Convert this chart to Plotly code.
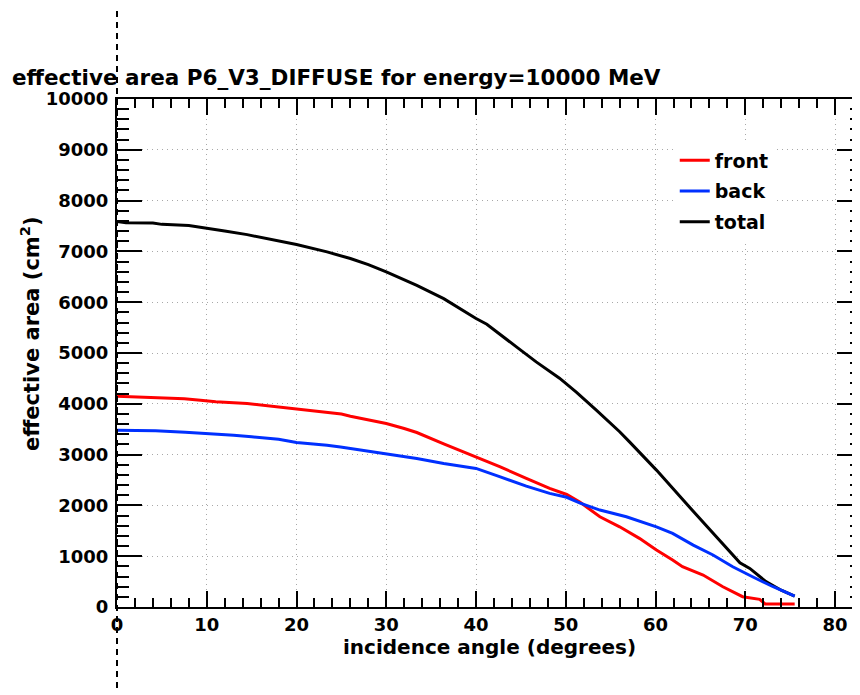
import plotly.graph_objects as go

# ---- data ----
total_deg = [0, 1, 4, 5, 8, 10, 12, 14.5, 17, 20, 23.4, 26, 28, 30, 33.4, 36.4, 40, 41.2, 44.5,
             46.7, 49.3, 51.2, 53.4, 56, 57.1, 60.1, 63.4, 66.4, 69.4, 70.5, 72.3, 74, 75.5]
total_val = [7590, 7565, 7560, 7532, 7510, 7450, 7400, 7330, 7240, 7135, 6990, 6860, 6740, 6595,
             6330, 6070, 5680, 5565, 5120, 4825, 4505, 4225, 3875, 3450, 3250, 2695, 2040, 1450,
             870, 760, 500, 330, 216]

front_deg = [0, 4, 7.5, 9.3, 11, 14.5, 16.3, 18.2, 20, 22, 25, 26, 28, 30, 32, 33.4, 36.4, 40,
             42.7, 45.6, 48.2, 50.1, 51.6, 53.8, 56, 58.2, 60.1, 61.9, 63, 65.3, 67.5, 69.7,
             71.6, 72.2, 75.5]
front_val = [4150, 4130, 4100, 4070, 4040, 4005, 3970, 3940, 3905, 3860, 3800, 3756, 3690, 3612,
             3514, 3435, 3210, 2956, 2759, 2530, 2334, 2215, 2060, 1776, 1579, 1351, 1121, 924,
             793, 629, 399, 203, 151, 60, 60]

back_deg = [0, 4.3, 7.6, 11, 13, 15, 18, 20, 22.3, 23.4, 24.9, 26, 28, 30, 33.4, 36.4, 40, 42.7,
            45.6, 48.2, 50.1, 51.6, 53.8, 56.75, 60.1, 61.9, 64.2, 66.4, 68.6, 70.8, 73.1, 75.5]
back_val = [3480, 3470, 3440, 3410, 3380, 3350, 3300, 3240, 3210, 3185, 3150, 3120, 3070, 3022,
            2924, 2826, 2728, 2562, 2380, 2236, 2160, 2045, 1908, 1776, 1579, 1449, 1219, 1023,
            793, 596, 399, 216]

x_ticks = [0, 10, 20, 30, 40, 50, 60, 70, 80]
x_ticktext = ["0", "10", "20", "30", "40", "50", "60", "70", "80"]
y_ticks = [0, 1000, 2000, 3000, 4000, 5000, 6000, 7000, 8000, 9000, 10000]
y_ticktext = ["0", "1000", "2000", "3000", "4000", "5000", "6000", "7000", "8000", "9000", "10000"]

FONT = "DejaVu Sans"
OFF = 8  # page body margin offset

fig = go.Figure()
fig.add_trace(go.Scatter(x=total_deg, y=total_val, mode="lines", name="total",
                         line=dict(color="black", width=3), legendgroup="t", legendrank=3))
fig.add_trace(go.Scatter(x=front_deg, y=front_val, mode="lines", name="front",
                         line=dict(color="#ff0000", width=3), legendgroup="f", legendrank=1))
fig.add_trace(go.Scatter(x=back_deg, y=back_val, mode="lines", name="back",
                         line=dict(color="#0030ff", width=3), legendgroup="b", legendrank=2))

W, H = 860, 695
# screen coordinates of the plot frame in the reference
SL, SR, ST, SB = 116.5, 862.5, 98.5, 607
L = SL - OFF
R = W - (SR - OFF)
T = ST - OFF
B = H - (SB - OFF)


def px(sx):
    return (sx - SL) / (SR - SL)


def py(sy):
    return (SB - sy) / (SB - ST)


axis_common = dict(
    showline=True, linecolor="black", linewidth=2, mirror="allticks",
    ticks="inside", tickcolor="black", tickwidth=2,
    showgrid=True, gridcolor="#a8a8a8", gridwidth=1, griddash="1px,4px",
    zeroline=False, automargin=False,
    tickfont=dict(family=FONT, size=18, color="black", weight="bold"),
)

fig.update_xaxes(range=[0, 83.0], tickvals=x_ticks, ticktext=x_ticktext, ticklen=16,
                 minor=dict(dtick=2, ticklen=9, tickwidth=2, tickcolor="black",
                            ticks="inside", showgrid=False),
                 **axis_common)
fig.update_yaxes(range=[0, 10000], tickvals=y_ticks, ticktext=y_ticktext, ticklen=25,
                 ticklabelstandoff=3,
                 minor=dict(dtick=200, ticklen=12, tickwidth=2, tickcolor="black",
                            ticks="inside", showgrid=False),
                 **axis_common)

fig.update_layout(
    width=W, height=H,
    margin=dict(l=L, r=R, t=T, b=B, pad=0),
    paper_bgcolor="white", plot_bgcolor="white",
    title=dict(text="effective area P6_V3_DIFFUSE for energy=10000 MeV",
               x=(12 - OFF) / W, xanchor="left", xref="container",
               y=1 - (77 - OFF) / H, yanchor="middle", yref="container",
               font=dict(family=FONT, size=21.5, color="black", weight="bold")),
    legend=dict(x=px(675), y=py(141), xanchor="left", yanchor="top",
                bgcolor="white", borderwidth=0, tracegroupgap=3,
                font=dict(family=FONT, size=19, color="black", weight="bold")),
    showlegend=True,
)

# axis titles
fig.add_annotation(text="incidence angle (degrees)", xref="paper", yref="paper",
                   x=px(489), y=py(647), xanchor="center", yanchor="middle",
                   showarrow=False, font=dict(family=FONT, size=20, color="black", weight="bold"))
fig.add_annotation(text="effective area (cm<sup>2</sup>)", xref="paper", yref="paper",
                   x=px(30), y=py(334), xanchor="center", yanchor="middle",
                   textangle=-90, showarrow=False,
                   font=dict(family=FONT, size=21, color="black", weight="bold"))

# dashed vertical guide line through x = 0
fig.add_shape(type="line", xref="paper", yref="paper", x0=0, x1=0,
              y0=py(688), y1=py(10),
              line=dict(color="black", width=2, dash="6px,5px"), layer="above")

fig.write_html("out.html")
